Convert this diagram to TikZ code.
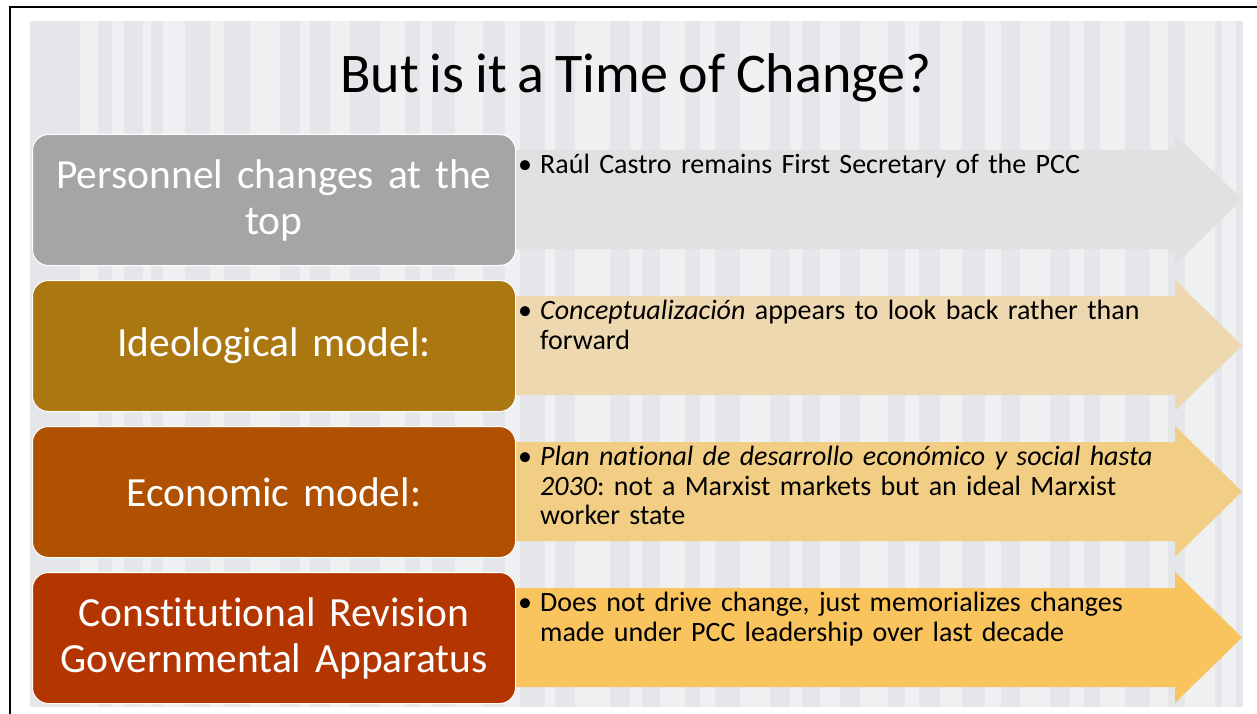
\documentclass[tikz,border=0pt]{standalone}
\usepackage{fontspec}
\setmainfont{Carlito}[Ligatures=NoCommon, WordSpace=0.85]
\frenchspacing
\definecolor{bgbase}{HTML}{E4E6EA}
\definecolor{boxA}{HTML}{A5A5A5}
\definecolor{boxB}{HTML}{AB7711}
\definecolor{boxC}{HTML}{AF5100}
\definecolor{boxD}{HTML}{B33500}
\definecolor{arrA}{HTML}{E1E1E1}
\definecolor{arrB}{HTML}{EDD8B0}
\definecolor{arrC}{HTML}{F2CE84}
\definecolor{arrD}{HTML}{F9C35E}
\begin{document}
\begin{tikzpicture}[x=1pt,y=-1pt,
  lbox/.style={rounded corners=16pt, draw=white, line width=1pt, anchor=north west,
    minimum width=483pt, minimum height=131pt, inner sep=0pt, text width=475pt,
    align=center, text=white, font=\fontsize{41.5}{46}\selectfont},
  btext/.style={font=\fontsize{28}{29.5}\selectfont, align=left, anchor=north west,
    inner sep=0pt, text width=680pt},
  bdot/.style={font=\fontsize{28}{29.5}\selectfont, anchor=north west, inner sep=0pt},
  stripe/.style={fill=white, opacity=0.4},
  ]
\useasboundingbox (0,0) rectangle (1257,714);
\fill[white] (0,0) rectangle (1257,714);
% slide background
\fill[bgbase] (30,21) rectangle (1243,707);
\foreach \sx/\sw in {80/18, 112/12, 143/8, 163/22, 210/14, 250/30, 300/10, 330/20,
  380/25, 420/12, 455/28, 505/15, 545/10, 575/35, 630/12, 660/25, 700/15, 740/30,
  790/12, 820/20, 860/28, 905/14, 940/22, 985/16, 1020/30, 1070/14, 1100/25,
  1150/18, 1185/30, 1222/14}
  \fill[stripe] (\sx,21) rectangle ({\sx+\sw},707);
% frame
\draw[line width=2pt] (10,714) -- (10,7) -- (1257,7);
% title
\node[font=\fontsize{56}{62}\selectfont, anchor=base, inner sep=0pt] (title) at (636,93) {But is it a Time of Change?};
% arrows
\foreach \t/\c in {134/arrA, 280/arrB, 426/arrC, 572/arrD}
  \fill[\c] (490,{\t+16}) -- (1175,{\t+16}) -- (1175,\t) -- (1242,{\t+65.5})
    -- (1175,{\t+131}) -- (1175,{\t+115}) -- (490,{\t+115}) -- cycle;
% left boxes
\node[lbox, fill=boxA] (box1) at (32,134) {Personnel changes at the\\top};
\node[lbox, fill=boxB] (box2) at (32,280) {Ideological model:};
\node[lbox, fill=boxC] (box3) at (32,426) {Economic model:};
\node[lbox, fill=boxD] (box4) at (32,572) {Constitutional Revision\\Governmental Apparatus};
% bullets
\node[bdot] (dot1) at (518,153) {\strut•};
\node[btext] (txt1) at (540,153) {\strut Raúl Castro remains First Secretary of the PCC};
\node[bdot] (dot2) at (518,299) {\strut•};
\node[btext] (txt2) at (540,299) {\strut\textit{Conceptualización} appears to look back rather than\\forward};
\node[bdot] (dot3) at (518,445) {\strut•};
\node[btext] (txt3) at (540,445) {\strut\textit{Plan national de desarrollo económico y social hasta}\\\textit{2030}: not a Marxist markets but an ideal Marxist\\worker state};
\node[bdot] (dot4) at (518,591) {\strut•};
\node[btext] (txt4) at (540,591) {\strut Does not drive change, just memorializes changes\\made under PCC leadership over last decade};
\end{tikzpicture}
\end{document}
